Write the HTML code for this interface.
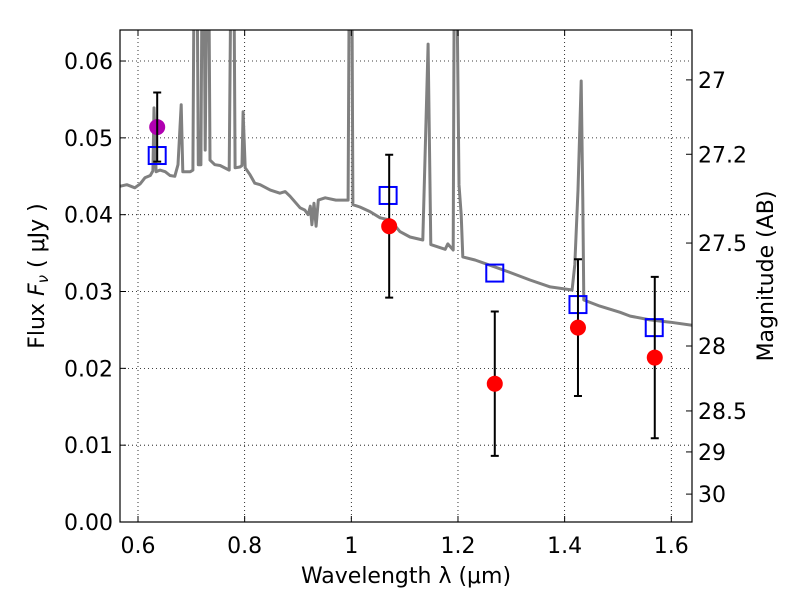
<!DOCTYPE html>
<html><head><meta charset="utf-8"><style>
html,body{margin:0;padding:0;background:#fff;}
svg text{font-family:"DejaVu Sans","Liberation Sans",sans-serif;fill:#000;}
</style></head><body>
<svg id="chart" width="800" height="600" viewBox="0 0 800 600" xmlns="http://www.w3.org/2000/svg">
<rect width="800" height="600" fill="#fff"/>
<g id="grid"></g>
<defs><clipPath id="clip"><rect x="120" y="30" width="572" height="492"/></clipPath></defs>
<g id="spec" clip-path="url(#clip)"></g>
<g id="marks"></g>
<rect x="120" y="30" width="572" height="492" fill="none" stroke="#000" stroke-width="1.2"/>
<g id="axes"></g>
<text x="406" y="583" font-size="22" text-anchor="middle">Wavelength  λ (μm)</text>
<text transform="translate(44,276) rotate(-90)" font-size="22" text-anchor="middle">Flux  <tspan font-style="italic">F</tspan><tspan font-size="15" font-style="italic" dy="4">ν</tspan><tspan dy="-4">  (  μJy )</tspan></text>
<text transform="translate(773,276) rotate(-90)" font-size="22" text-anchor="middle">Magnitude (AB)</text>
</svg>
<script>
const specLam=[0.566,0.579,0.594,0.604,0.613,0.623,0.628,0.630,0.634,0.641,0.651,0.660,0.669,0.675,0.681,0.684,0.698,0.703,0.705,0.711,0.713,0.718,0.720,0.724,0.726,0.729,0.733,0.735,0.744,0.754,0.771,0.774,0.780,0.782,0.791,0.795,0.797,0.801,0.810,0.819,0.829,0.848,0.866,0.876,0.885,0.904,0.913,0.919,0.923,0.926,0.930,0.934,0.938,0.951,0.971,0.994,0.996,1.001,1.003,1.016,1.035,1.054,1.073,1.091,1.110,1.134,1.144,1.149,1.176,1.181,1.191,1.193,1.198,1.202,1.206,1.209,1.232,1.269,1.301,1.335,1.373,1.414,1.419,1.425,1.431,1.434,1.436,1.466,1.504,1.523,1.560,1.598,1.639];
const specFlux=[0.0437,0.0439,0.0435,0.0440,0.0448,0.0451,0.0457,0.0539,0.0456,0.0458,0.0456,0.0451,0.0450,0.0465,0.0543,0.0456,0.0456,0.0458,0.07,0.07,0.0465,0.0465,0.07,0.07,0.0484,0.07,0.07,0.0471,0.0465,0.0464,0.0458,0.07,0.07,0.0461,0.0462,0.0464,0.0534,0.0461,0.0452,0.0441,0.0439,0.0432,0.0428,0.0430,0.0424,0.0409,0.0406,0.0400,0.0411,0.0387,0.0415,0.0385,0.0419,0.0422,0.0419,0.0419,0.07,0.07,0.0413,0.0410,0.0404,0.0396,0.0393,0.0378,0.0371,0.0367,0.0622,0.0361,0.0355,0.0362,0.0354,0.07,0.07,0.0439,0.0400,0.0345,0.0341,0.0332,0.0324,0.0315,0.0306,0.0302,0.0335,0.0432,0.0574,0.0419,0.0289,0.0281,0.0273,0.0268,0.0263,0.0260,0.0256];
const modelLam=[0.636,1.069,1.269,1.425,1.568];
const modelFlux=[0.0477,0.0425,0.0324,0.0283,0.0253];
const obsLam=[1.071,1.269,1.425,1.569];
const obsFlux=[0.0385,0.0180,0.0253,0.0214];
const obsErr=[0.0093,0.0094,0.0089,0.0105];
const extraLam=[0.636];
const extraFlux=[0.0514];
const extraErr=[0.0045];
const xTicks=[0.6,0.8,1.0,1.2,1.4,1.6];
const xTickLabels=["0.6","0.8","1","1.2","1.4","1.6"];
const yTicks=[0,0.01,0.02,0.03,0.04,0.05,0.06];
const yTickLabels=["0.00","0.01","0.02","0.03","0.04","0.05","0.06"];
const magTicks=[27,27.2,27.5,28,28.5,29,30];
const magTickLabels=["27","27.2","27.5","28","28.5","29","30"];

const NS="http://www.w3.org/2000/svg";
const X=l=>138+(l-0.6)*533.3;
const Y=f=>522-f*7683;
const M=m=>Y(Math.pow(10,(23.9-m)/2.5));
function mk(parent,tag,attrs){const e=document.createElementNS(NS,tag);for(const k in attrs)e.setAttribute(k,attrs[k]);document.getElementById(parent).appendChild(e);return e;}

xTicks.forEach((t,i)=>{
  const x=X(t);
  let g=mk('grid','line',{x1:x,x2:x,y1:30,y2:522,stroke:'#000','stroke-width':0.8,'stroke-dasharray':'1,3'});
  
  
  let a=mk('axes','line',{x1:x,x2:x,y1:522,y2:516,stroke:'#000'});
  
  
  let b=mk('axes','line',{x1:x,x2:x,y1:30,y2:36,stroke:'#000'});
  
  
  let tx=mk('axes','text',{x:x,y:553,'font-size':22,'text-anchor':'middle'});tx.textContent=xTickLabels[i];
  
  
});
yTicks.forEach((t,i)=>{
  const y=Y(t);
  let g=mk('grid','line',{x1:120,x2:692,y1:y,y2:y,stroke:'#000','stroke-width':0.8,'stroke-dasharray':'1,3'});
  
  
  let a=mk('axes','line',{x1:120,x2:126,y1:y,y2:y,stroke:'#000'});
  
  
  let tx=mk('axes','text',{x:113,y:y+8,'font-size':22,'text-anchor':'end'});tx.textContent=yTickLabels[i];
  
  
});
magTicks.forEach((m,i)=>{
  const y=M(m);
  let a=mk('axes','line',{x1:686,x2:692,y1:y,y2:y,stroke:'#000'});
  
  
  let tx=mk('axes','text',{x:698,y:y+8,'font-size':22});tx.textContent=magTickLabels[i];
  
  
});
let d=specLam.map((l,i)=>(i?'L':'M')+X(l).toFixed(1)+','+Y(specFlux[i]).toFixed(1)).join('');
let sp=mk('spec','path',{d:d,fill:'none',stroke:'#808080','stroke-width':3,'stroke-linejoin':'round'});



function errbar(l,f,e){
  const x=X(l),y1=Y(f+e),y2=Y(f-e);
  let v=mk('marks','path',{d:`M${x},${y1}V${y2}M${x-4},${y1}H${x+4}M${x-4},${y2}H${x+4}`,stroke:'#000','stroke-width':2,fill:'none'});
  
  
}
modelLam.forEach((l,i)=>{
  let r=mk('marks','rect',{x:X(l)-8.5,y:Y(modelFlux[i])-8.5,width:17,height:17,fill:'none',stroke:'#0000ff','stroke-width':2});
  
  
});
extraLam.forEach((l,i)=>{
  let c=mk('marks','circle',{cx:X(l),cy:Y(extraFlux[i]),r:8,fill:'#b000b0'});
  
  
  errbar(l,extraFlux[i],extraErr[i]);
});
obsLam.forEach((l,i)=>{
  errbar(l,obsFlux[i],obsErr[i]);
  let c=mk('marks','circle',{cx:X(l),cy:Y(obsFlux[i]),r:8,fill:'#ff0000'});
  
  
});
</script>
</body></html>
